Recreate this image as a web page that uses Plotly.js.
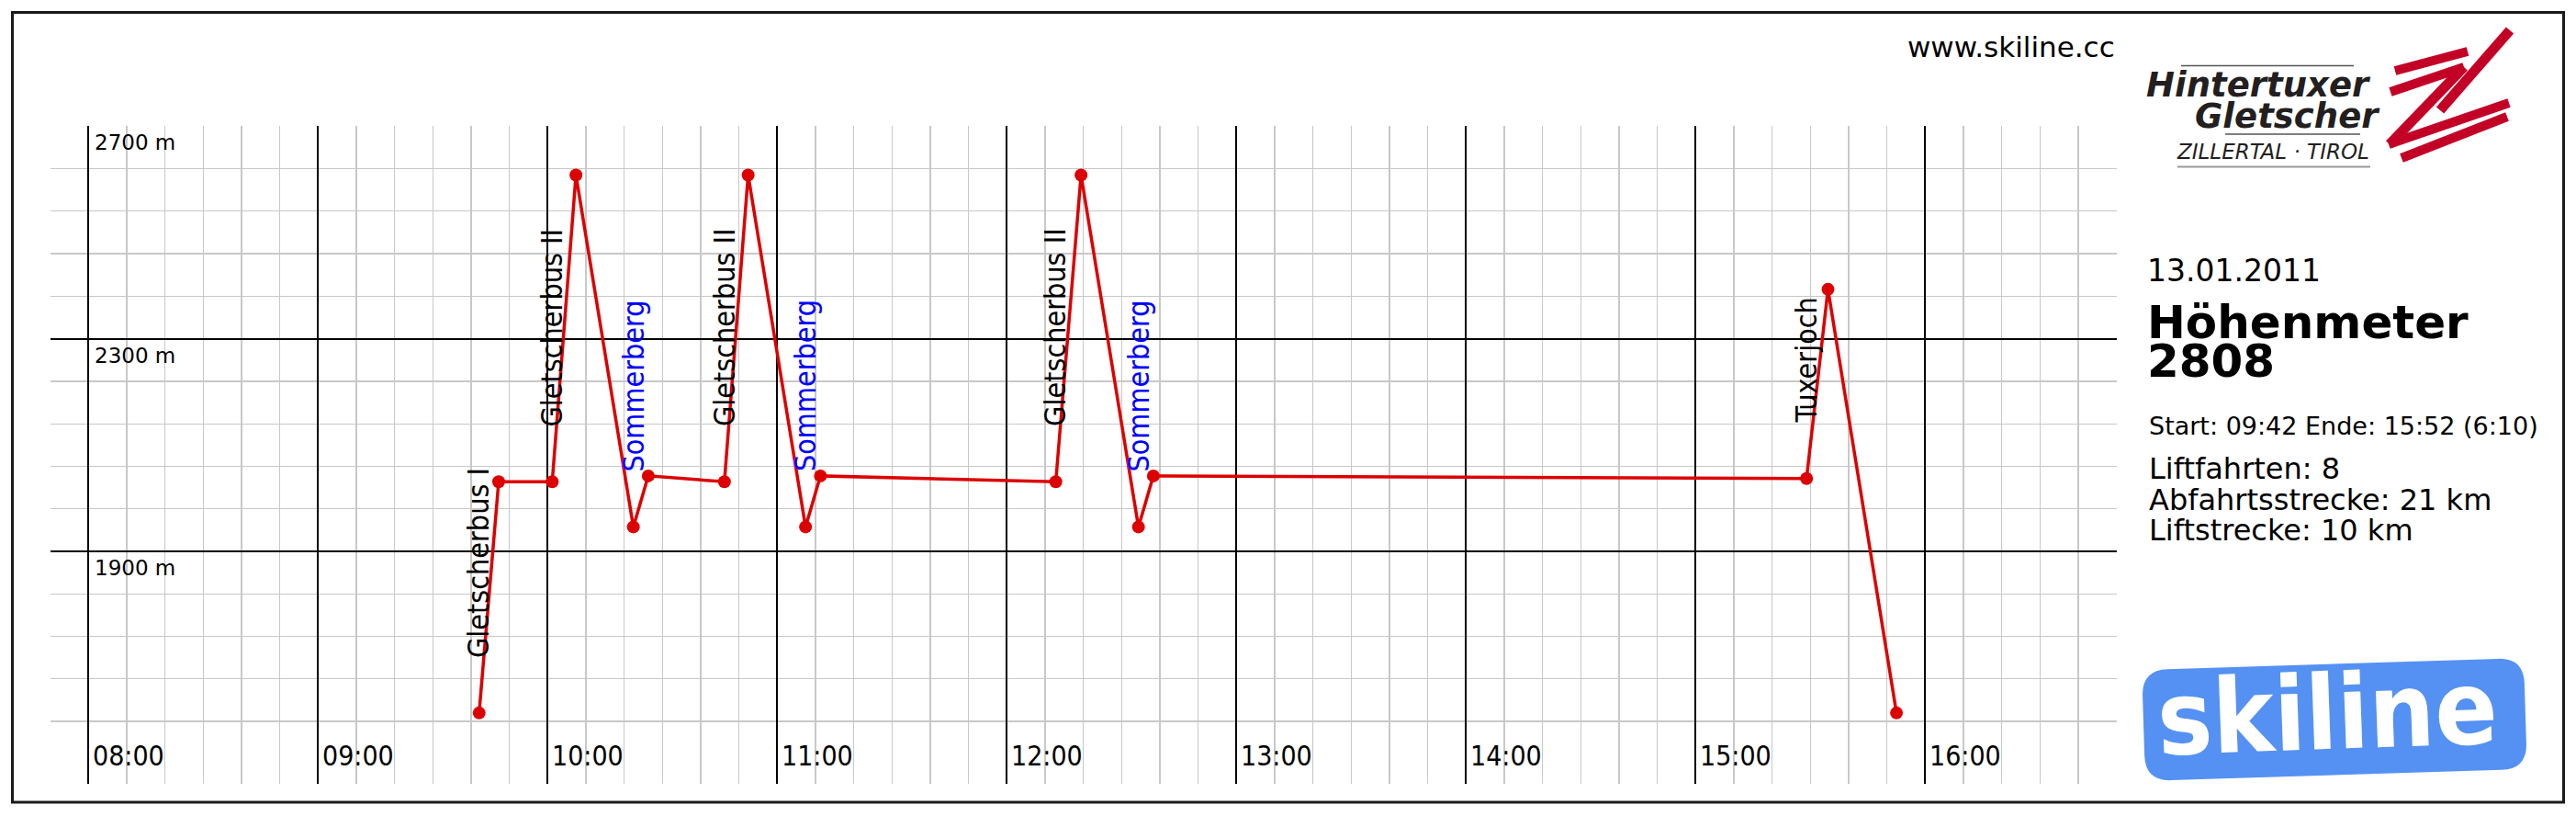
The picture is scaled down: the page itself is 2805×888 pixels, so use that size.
<!DOCTYPE html>
<html>
<head>
<meta charset="utf-8">
<script src="https://cdn.plot.ly/plotly-3.0.1.min.js"></script>
<style>
html,body{margin:0;padding:0;background:#ffffff;}
#chart{width:2805px;height:888px;}
</style>
</head>
<body>
<div id="chart"></div>
<script>
// ---------------- data ----------------
const day = '2011-01-13 ';
const times = ['09:42:06','09:47:12','10:01:12','10:07:24','10:22:24','10:26:18','10:46:12','10:52:24',
               '11:07:24','11:11:18','12:12:48','12:19:24','12:34:24','12:38:18','15:29:00','15:34:36','15:52:30'];
const altitudes = [1596,2031,2031,2608,1946,2042,2031,2608,1946,2042,2031,2608,1946,2042,2037,2393,1596];
const liftStartIndex = [0,2,4,6,8,10,12,14];
const liftNames = ['Gletscherbus I','Gletscherbus II','Sommerberg','Gletscherbus II','Sommerberg','Gletscherbus II','Sommerberg','Tuxerjoch'];
const hourTicks = ['08:00','09:00','10:00','11:00','12:00','13:00','14:00','15:00','16:00'];
const altitudeTicks = [1900,2300,2700];
const altitudeTickLabels = ['1900 m','2300 m','2700 m'];
const altitudeMinorTicks = [1580,1660,1740,1820,1980,2060,2140,2220,2380,2460,2540,2620];
const siteText = 'www.skiline.cc';
const dateText = '13.01.2011';
const heightTitle = 'Höhenmeter';
const heightValue = '2808';
const startTime = '09:42', endTime = '15:52', durationText = '6:10';
const liftRides = 8, downhillKm = 21, liftKm = 10;

// ---------------- styles / geometry ----------------
const W = 2805, H = 888;
const M = {l:55, r:500, t:137, b:35};
const PW = W - M.l - M.r, PH = H - M.t - M.b;
const px = x => (x - M.l) / PW;
const py = y => (H - M.b - y) / PH;
const RED = '#dd0000';
const LOGO_RED = '#c30026';
const LOGO_DARK = '#231f20';
const SKI_BLUE = '#5591f2';
const liftColor = {'Sommerberg':'#0000ff'};
const condensed = 'DejaVu Sans Condensed, DejaVu Sans, sans-serif';
const sans = 'DejaVu Sans, sans-serif';

const xs = times.map(t => day + t);

const trace = {
  type:'scatter', mode:'lines+markers', x: xs, y: altitudes,
  line:{color:RED, width:3.5}, marker:{color:RED, size:14},
  hoverinfo:'skip', showlegend:false, cliponaxis:false
};

const annotations = [];
// lift labels
liftStartIndex.forEach((idx, k) => {
  annotations.push({
    xref:'x', yref:'y', x: xs[idx], y: altitudes[idx], text: liftNames[k],
    showarrow:false, textangle:-90, xanchor:'center', yanchor:'bottom', yshift:58,
    font:{family:condensed, size:32, color: liftColor[liftNames[k]] || '#000000'}
  });
});
// hour labels
hourTicks.forEach(h => {
  annotations.push({
    xref:'x', yref:'paper', x: day + h, y: py(822.5), text: h, showarrow:false,
    xanchor:'left', yanchor:'middle', xshift:3,
    font:{family:condensed, size:30, color:'#000'}
  });
});
// altitude labels
altitudeTicks.forEach((v, i) => {
  annotations.push({
    xref:'x', yref:'y', x: day + hourTicks[0], y: v, text: altitudeTickLabels[i], showarrow:false,
    xanchor:'left', yanchor:'middle', xshift:5, yshift:-18,
    font:{family:sans, size:23, color:'#000'}
  });
});
// right panel texts
function label(text, x, y, size, opts) {
  annotations.push(Object.assign({
    xref:'paper', yref:'paper', x: px(x), y: py(y), text: text, showarrow:false,
    xanchor:'left', yanchor:'middle',
    font:{family:sans, size:size, color:'#000'}
  }, opts || {}));
}
label(siteText, 2305, 51, 31, {xanchor:'right'});
label('Hintertuxer', 2584, 93, 37, {xanchor:'right', font:{family:sans, size:37, color:LOGO_DARK, weight:'bold', style:'italic'}});
label('Gletscher', 2594, 126, 37, {xanchor:'right', font:{family:sans, size:37, color:LOGO_DARK, weight:'bold', style:'italic'}});
label('ZILLERTAL · TIROL', 2368, 164.5, 23, {font:{family:sans, size:23, color:LOGO_DARK, style:'italic'}});
label(dateText, 2336, 294.5, 33);
label('<b>' + heightTitle + '</b>', 2336, 351, 50);
label('<b>' + heightValue + '</b>', 2336, 393, 50);
label('Start: ' + startTime + ' Ende: ' + endTime + ' (' + durationText + ')', 2338, 463.4, 27);
label('Liftfahrten: ' + liftRides, 2338, 509.6, 32);
label('Abfahrtsstrecke: ' + downhillKm + ' km', 2338, 543.9, 32);
label('Liftstrecke: ' + liftKm + ' km', 2338, 577.2, 32);
label('skiline', 2534, 776, 112, {xanchor:'center', textangle:-2,
  font:{family:'DejaVu Sans Condensed, DejaVu Sans, sans-serif', size:112, color:'#ffffff', weight:'bold'}});

// shapes
const shapes = [];
function seg(x0,y0,x1,y1,color,width){
  shapes.push({type:'line', xref:'paper', yref:'paper', x0:px(x0), y0:py(y0), x1:px(x1), y1:py(y1),
    line:{color:color, width:width}, layer:'above'});
}
// outer frame
shapes.push({type:'rect', xref:'paper', yref:'paper', x0:px(13.5), y0:py(873), x1:px(2791.5), y1:py(13.5),
  line:{color:'#1a1a1a', width:3}, layer:'above'});
// logo rules
seg(2375,71.5,2563,71.5,'#555555',1.5);
seg(2423,146,2570,146,'#555555',1.5);
seg(2371,181.5,2581,181.5,'#9a9a9a',2);
// Z scribble
seg(2608,77,2687,56,LOGO_RED,10);
seg(2603,100,2683,73,LOGO_RED,10);
seg(2733,33,2657,120,LOGO_RED,11);
seg(2683,73,2602,157,LOGO_RED,11);
seg(2601,157,2732,112,LOGO_RED,10);
seg(2615,172,2730,127,LOGO_RED,10);
// skiline badge: rotated rounded rectangle
(function(){
  const cx = 2542, cy = 783, hw = 208, hh = 60.5, r = 28, a = -1.8*Math.PI/180;
  const ca = Math.cos(a), sa = Math.sin(a);
  const T = (dx,dy) => { const X = cx + dx*ca - dy*sa, Y = cy + dx*sa + dy*ca; return px(X).toFixed(6)+','+py(Y).toFixed(6); };
  const d = 'M' + T(-hw+r,-hh) + ' L' + T(hw-r,-hh) + ' Q' + T(hw,-hh) + ' ' + T(hw,-hh+r) +
            ' L' + T(hw,hh-r) + ' Q' + T(hw,hh) + ' ' + T(hw-r,hh) +
            ' L' + T(-hw+r,hh) + ' Q' + T(-hw,hh) + ' ' + T(-hw,hh-r) +
            ' L' + T(-hw,-hh+r) + ' Q' + T(-hw,-hh) + ' ' + T(-hw+r,-hh) + ' Z';
  shapes.push({type:'path', xref:'paper', yref:'paper', path:d, fillcolor:SKI_BLUE, line:{width:0}, layer:'below'});
})();

const layout = {
  width: W, height: H, margin: M, paper_bgcolor:'#ffffff', plot_bgcolor:'#ffffff',
  font:{family:sans, color:'#000'},
  showlegend:false,
  xaxis:{
    type:'date', range:[day+'07:50:05', day+'16:50:05'],
    tickmode:'linear', tick0: day+'00:00', dtick: 3600000,
    showgrid:true, gridcolor:'#000000', gridwidth:2,
    showticklabels:false, ticks:'', zeroline:false, showline:false, fixedrange:true,
    minor:{showgrid:true, tick0: day+'00:00', dtick:600000, gridcolor:'#c8c8c8', gridwidth:1.3}
  },
  yaxis:{
    range:[1462.6, 2700.5], tickmode:'array', tickvals: altitudeTicks,
    showgrid:true, gridcolor:'#000000', gridwidth:2,
    showticklabels:false, ticks:'', zeroline:false, showline:false, fixedrange:true,
    minor:{showgrid:true, tickmode:'array', tickvals: altitudeMinorTicks, gridcolor:'#c8c8c8', gridwidth:1.3}
  },
  annotations: annotations,
  shapes: shapes
};

Plotly.newPlot('chart', [trace], layout, {staticPlot:true, displayModeBar:false});
</script>
</body>
</html>
